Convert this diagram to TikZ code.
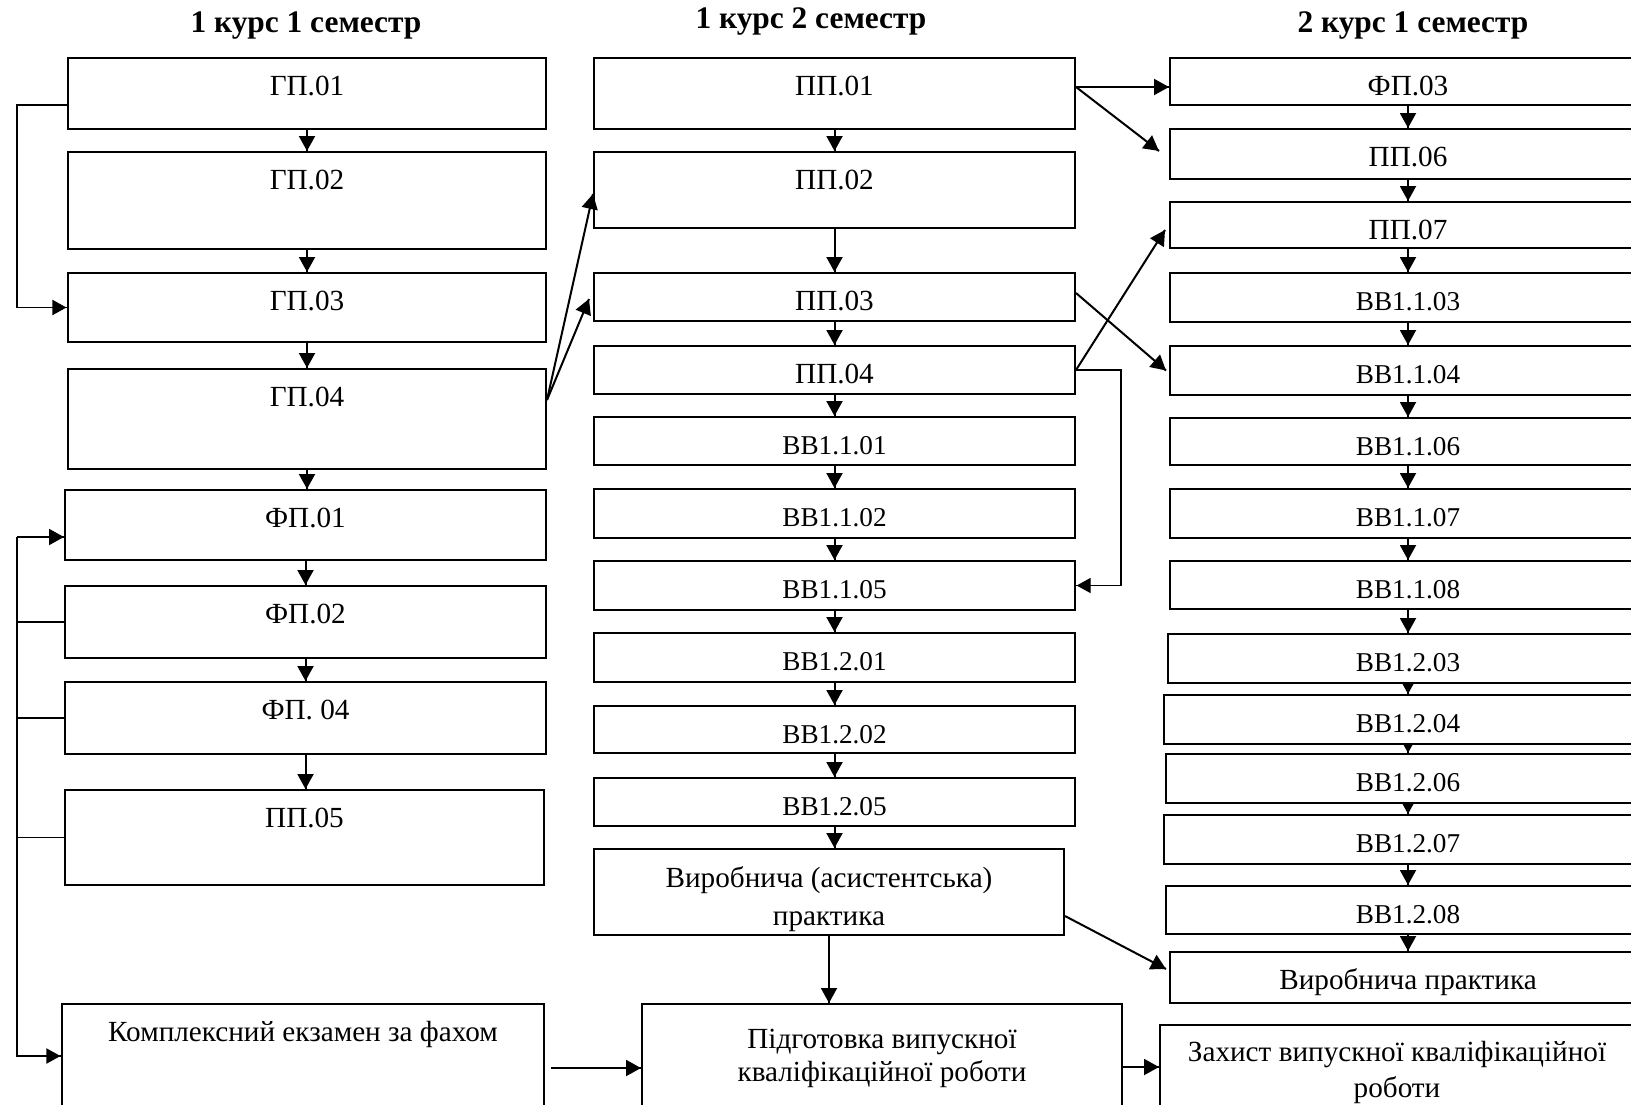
\documentclass[tikz,border=0pt]{standalone}
\usepackage{fontspec}
\setmainfont{Liberation Serif}
\tikzset{->/.style = {decoration={markings, mark=at position 1 with {\arrow{Triangle[length=7.5pt,width=8pt]}}}, postaction={decorate}}}
\tikzset{box/.style = {draw, line width = 1pt, fill = white, inner sep = 0, anchor = north west, align = center}}
\tikzset{onebox/.style = {box, text height = 18.5pt}}
\tikzset{bbox/.style = {onebox, font = \fontsize{13.6}{16}\selectfont}}
\tikzset{semtitle/.style = {font = \bfseries\fontsize{15.7}{18}\selectfont, anchor = base}}
\usetikzlibrary{arrows.meta,
                 decorations.markings}
\pgfdeclarelayer{bg}
\pgfsetlayers{bg,main}

\begin{document}
\begin{tikzpicture}[x = 0.5pt, y = -0.5pt, every path/.append style = {line width = 1pt}, font = \fontsize{14.6}{17}\selectfont]
    \useasboundingbox (0,0) rectangle (1631,1104);
    \node [semtitle] (t1) at (306,32) {1 курс 1 семестр};
    \node [semtitle] (t2) at (811,28.5) {1 курс 2 семестр};
    \node [semtitle] (t3) at (1413,32) {2 курс 1 семестр};
    % 1 course, 1 semester
    \node [onebox, minimum width = 239pt, text depth = 17pt] (gp1) at (67,57) {ГП.01};
    \node [onebox, minimum width = 239pt, text depth = 30pt] (gp2) at (67,151) {ГП.02};
    \node [onebox, minimum width = 239pt, text depth = 16pt] (gp3) at (67,272) {ГП.03};
    \node [onebox, minimum width = 239pt, text depth = 31.5pt] (gp4) at (67,368) {ГП.04};
    \node [onebox, minimum width = 240.5pt, text depth = 16.5pt] (fp1) at (64,489) {ФП.01};
    \node [onebox, minimum width = 240.5pt, text depth = 17.5pt] (fp2) at (64,585) {ФП.02};
    \node [onebox, minimum width = 240.5pt, text depth = 17.5pt] (fp4) at (64,681) {ФП. 04};
    \node [onebox, minimum width = 239.5pt, text depth = 29pt] (pp5) at (64,789) {ПП.05};
    \node [onebox, minimum width = 241pt, text depth = 36.5pt] (kompl) at (61,1003) {Комплексний екзамен за фахом};
    % 1 course, 2 semester
    \node [onebox, minimum width = 240.5pt, text depth = 17pt] (pp1) at (593,57) {ПП.01};
    \node [onebox, minimum width = 240.5pt, text depth = 19.5pt] (pp2) at (593,151) {ПП.02};
    \node [onebox, minimum width = 240.5pt, text depth = 5.5pt] (pp3) at (593,272) {ПП.03};
    \node [onebox, minimum width = 240.5pt, text depth = 5.5pt] (pp4) at (593,345) {ПП.04};
    \node [bbox, minimum width = 240.5pt, text depth = 5.5pt] (bb101) at (593,416) {ВВ1.1.01};
    \node [bbox, minimum width = 240.5pt, text depth = 6pt] (bb102) at (593,488) {ВВ1.1.02};
    \node [bbox, minimum width = 240.5pt, text depth = 6pt] (bb105) at (593,560) {ВВ1.1.05};
    \node [bbox, minimum width = 240.5pt, text depth = 6pt] (bb201) at (593,632) {ВВ1.2.01};
    \node [bbox, minimum width = 240.5pt, text depth = 5pt] (bb202) at (593,705) {ВВ1.2.02};
    \node [bbox, minimum width = 240.5pt, text depth = 5.5pt] (bb205) at (593,777) {ВВ1.2.05};
    \node [box, minimum width = 235pt, text height = 38pt, text depth = 5pt, font = \fontsize{14.6}{19}\selectfont] (vira) at (593,848) {Виробнича (асистентська)\\практика};
    \node [box, minimum width = 240pt, minimum height = 54pt, font = \fontsize{14.6}{16.5}\selectfont] (pidg) at (641,1003) {Підготовка випускної\\кваліфікаційної роботи};
    % 2 course, 1 semester
    \node [onebox, minimum width = 238pt, text depth = 5pt] (fp3) at (1169,57) {ФП.03};
    \node [onebox, minimum width = 238pt, text depth = 6.5pt] (pp6) at (1169,128) {ПП.06};
    \node [onebox, minimum width = 238pt, text depth = 4.5pt] (pp7) at (1169,201) {ПП.07};
    \node [bbox, minimum width = 238pt, text depth = 6pt] (bb103) at (1169,272) {ВВ1.1.03};
    \node [bbox, minimum width = 238pt, text depth = 6pt] (bb104) at (1169,345) {ВВ1.1.04};
    \node [bbox, minimum width = 238pt, text depth = 5pt] (bb106) at (1169,417) {ВВ1.1.06};
    \node [bbox, minimum width = 238pt, text depth = 6pt] (bb107) at (1169,488) {ВВ1.1.07};
    \node [bbox, minimum width = 238pt, text depth = 5.5pt] (bb108) at (1169,560) {ВВ1.1.08};
    \node [bbox, minimum width = 240pt, text depth = 6pt] (bb203) at (1167,633) {ВВ1.2.03};
    \node [bbox, minimum width = 244pt, text depth = 6pt] (bb204) at (1163,694) {ВВ1.2.04};
    \node [bbox, minimum width = 242pt, text depth = 6pt] (bb206) at (1165,753) {ВВ1.2.06};
    \node [bbox, minimum width = 244pt, text depth = 6pt] (bb207) at (1163,814) {ВВ1.2.07};
    \node [bbox, minimum width = 242pt, text depth = 5.5pt] (bb208) at (1165,885) {ВВ1.2.08};
    \node [onebox, minimum width = 238pt, text depth = 7pt] (virp) at (1169,951) {Виробнича практика};
    \node [box, minimum width = 237pt, minimum height = 47pt, font = \fontsize{14.6}{18}\selectfont] (zah) at (1159,1024) {Захист випускної кваліфікаційної\\роботи};
    % arrows down the columns, behind the boxes
    \begin{pgfonlayer}{bg}
    \foreach \a/\b in {gp1/gp2, gp2/gp3, gp3/gp4, gp4/fp1, fp1/fp2, fp2/fp4, fp4/pp5,
                       pp1/pp2, pp2/pp3, pp3/pp4, pp4/bb101, bb101/bb102, bb102/bb105, bb105/bb201, bb201/bb202, bb202/bb205, bb205/vira, vira/pidg,
                       fp3/pp6, pp6/pp7, pp7/bb103, bb103/bb104, bb104/bb106, bb106/bb107, bb107/bb108, bb108/bb203, bb203/bb204, bb204/bb206, bb206/bb207, bb207/bb208, bb208/virp}
        \draw [->] (\a.south) -- (\a.south |- \b.north);
    \end{pgfonlayer}
    % arrows between the columns
    \draw [->] ([yshift=9.5pt]gp4.east) -- ([yshift=-2pt]pp2.west);
    \draw [->] ([yshift=9.5pt]gp4.east) -- ([xshift=-2pt,yshift=-1pt]pp3.west);
    \draw [->] ([yshift=3.25pt]pp1.east) -- ([yshift=3.25pt]pp1.east -| fp3.west);
    \draw [->] ([yshift=3.25pt]pp1.east) -- ([xshift=-5pt,yshift=1.5pt]pp6.west);
    \draw [->] ([yshift=2pt]pp3.east) -- ([xshift=-1.5pt]bb104.west);
    \draw [->] (pp4.east) -- ([xshift=-2pt,yshift=-2.5pt]pp7.west);
    \draw [->, line width = 0.7pt] (pp4.east) -- ++(45,0) |- (bb105.east);
    \draw [->] ([yshift=-12pt]vira.east) -- ([xshift=-1.5pt,yshift=4.25pt]virp.west);
    \draw [->] ([xshift=3pt,yshift=-32.5pt]kompl.north east) -- ([yshift=-32.5pt]kompl.north east -| pidg.west);
    \draw [->] ([yshift=-32pt]pidg.north east) -- ([yshift=-32pt]pidg.north east -| zah.west);
    % lines on the left
    \draw [->, line width = 0.75pt] ([yshift=-5.75pt]gp1.west) -- ++(-50,0) |- (gp3.west);
    \coordinate (bus) at (17,537);
    \draw [->] (bus) -- (bus -| fp1.west);
    \draw [->, line width = 0.75pt] (bus) |- ([yshift=-26.5pt]kompl.north west);
    \foreach \n in {fp2, fp4, pp5}
        \draw [line width = 0.75pt] (\n.west) -- (\n.west -| bus);
\end{tikzpicture}
\end{document}
